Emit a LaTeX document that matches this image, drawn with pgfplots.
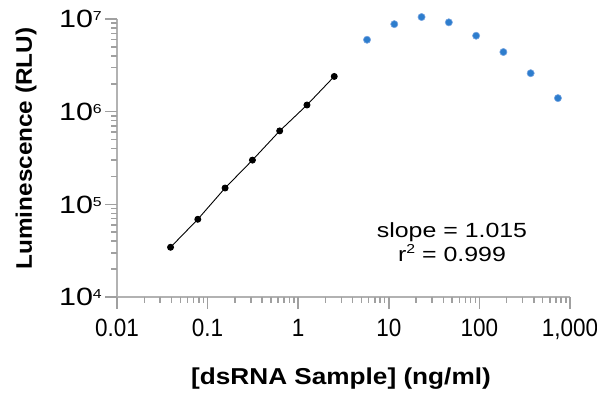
\documentclass[border=0pt]{standalone}
\usepackage{fontspec}
\setmainfont{Liberation Sans}
\newfontfamily\xtickfont[FakeStretch=0.9]{Liberation Sans}
\newfontfamily\ytickfont[FakeStretch=1.22]{Liberation Sans}
\newfontfamily\notefont[FakeStretch=1.215]{Liberation Sans}
\newfontfamily\xlabfont[FakeStretch=1.138]{Liberation Sans}
\newfontfamily\ylabfont[FakeStretch=1.08]{Liberation Sans}
\usepackage{pgfplots}
\pgfplotsset{compat=1.18}
\definecolor{axgray}{RGB}{178,178,178}
\definecolor{tkgray}{RGB}{160,160,160}
\definecolor{ptblue}{RGB}{45,125,205}
\definecolor{ptedge}{RGB}{120,165,225}
\newcommand{\tp}[1]{10\raisebox{7pt}{\fontsize{13}{13}\selectfont #1}}
\begin{document}
\begin{tikzpicture}
\begin{axis}[
  name=ax,
  scale only axis, width=453pt, height=278pt,
  xmode=log, ymode=log,
  xmin=0.01, xmax=1000, ymin=1e4, ymax=1e7,
  axis lines=left,
  axis line style={-, axgray, line width=1.6pt},
  every tick/.style={draw=none},
  tick align=outside,
  major tick length=12pt, minor tick length=6pt,
  xtick={0.01,0.1,1,10,100,1000},
  xticklabels={0.01,0.1,1,10,100,{1,000}},
  ytick={1e4,1e5,1e6,1e7},
  yticklabels={\tp{4},\tp{5},\tp{6},\tp{7}},
  xticklabel style={font=\xtickfont\fontsize{25}{28}\selectfont, black, anchor=base, inner sep=0pt, yshift=-28pt},
  yticklabel style={font=\ytickfont\fontsize{25}{28}\selectfont, black, anchor=base east, inner sep=0pt, yshift=-9pt, xshift=-3pt},
  xlabel={{[dsRNA Sample] (ng/ml)}},
  ylabel={Luminescence (RLU)},
  xlabel style={font=\xlabfont\bfseries\fontsize{23}{26}\selectfont, at={(axis description cs:0.4945,-0.295)}, anchor=center},
  ylabel style={font=\ylabfont\bfseries\fontsize{22.5}{26}\selectfont, at={(axis description cs:-0.2009,0.534)}, anchor=center},
  clip=false,
]
\pgfplotsinvokeforeach{0.01,0.1,1,10,100,1000}{
  \draw[draw=tkgray, line width=1.6pt] (axis cs:#1,1e4) -- ++(0pt,-12pt);
}
\pgfplotsinvokeforeach{0.02,0.03,0.04,0.05,0.06,0.07,0.08,0.09,0.2,0.3,0.4,0.5,0.6,0.7,0.8,0.9,2,3,4,5,6,7,8,9,20,30,40,50,60,70,80,90,200,300,400,500,600,700,800,900}{
  \draw[draw=tkgray, line width=1.5pt] (axis cs:#1,1e4) -- ++(0pt,-6pt);
}
\pgfplotsinvokeforeach{1e4,1e5,1e6,1e7}{
  \draw[draw=tkgray, line width=1.6pt] (axis cs:0.01,#1) -- ++(-12pt,0pt);
}
\pgfplotsinvokeforeach{2e4,3e4,4e4,5e4,6e4,7e4,8e4,9e4,2e5,3e5,4e5,5e5,6e5,7e5,8e5,9e5,2e6,3e6,4e6,5e6,6e6,7e6,8e6,9e6}{
  \draw[draw=tkgray, line width=1.5pt] (axis cs:0.01,#1) -- ++(-6pt,0pt);
}
\addplot[black, line width=0.9pt, mark=*, mark size=3pt] coordinates {
  (0.039,34400) (0.078,69000) (0.156,150000) (0.3125,300000) (0.625,620000) (1.25,1180000) (2.5,2400000)
};
\addplot[only marks, mark=*, mark size=3.6pt, mark options={fill=ptblue, draw=ptedge, line width=0.6pt}] coordinates {
  (5.75,5970000) (11.5,8800000) (23,10500000) (46,9200000) (92,6600000) (184,4400000) (368,2600000) (736,1400000)
};
\node[anchor=base, font=\notefont\fontsize{20.5}{24}\selectfont] at (axis description cs:0.7395,0.2147) {slope = 1.015};
\node[anchor=base, font=\notefont\fontsize{20.5}{24}\selectfont] at (axis description cs:0.7395,0.1259) {r\raisebox{8.5pt}{\fontsize{13}{13}\selectfont 2} = 0.999};
\end{axis}
\pgfresetboundingbox
\path[use as bounding box] ([shift={(-117pt,-97pt)}]ax.south west) rectangle ([shift={(27pt,19pt)}]ax.north east);
\end{tikzpicture}
\end{document}
